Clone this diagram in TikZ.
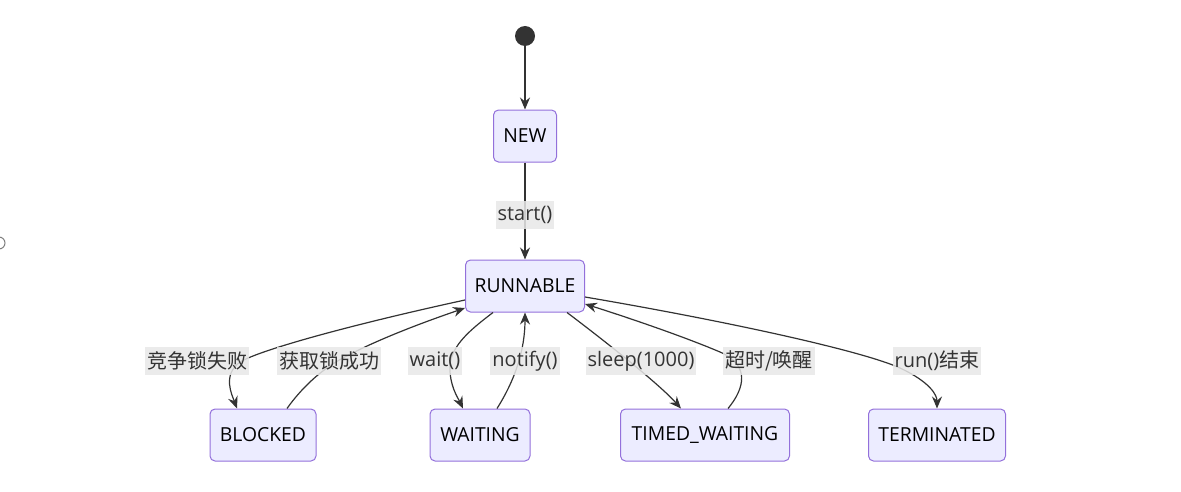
\documentclass[tikz,border=0pt]{standalone}
\usepackage{fontspec}
\setmainfont{Open Sans}
\newfontfamily\cjk{Noto Sans CJK SC}
\usetikzlibrary{arrows.meta,calc}
\definecolor{statefill}{HTML}{ECECFF}
\definecolor{statedraw}{HTML}{9370DB}
\definecolor{edgecol}{HTML}{333333}
\definecolor{labelbg}{HTML}{E8E8E8}
\begin{document}
\begin{tikzpicture}[x=0.75pt,y=-0.75pt,
    state/.style ={rectangle, rounded corners=3.75pt, draw=statedraw, fill=statefill,
      line width=0.75pt, minimum height=39pt, inner sep=0pt,
      font=\fontsize{14.5}{16}\selectfont, text=black},
    trans/.style ={fill=labelbg, fill opacity=0.85, text opacity=1, text=edgecol,
      minimum height=21pt, inner xsep=1.5pt, inner ysep=0pt,
      font=\fontsize{15}{17}\selectfont},
    edge/.style ={draw=edgecol, line width=0.9pt,
      -{Stealth[length=9pt,width=7.5pt,inset=3pt]}}]
   \useasboundingbox (0,0) rectangle (1181,492);
   \draw[gray, line width=0.75pt] (-1,243) circle[radius=4.5pt];
   % states
   \node[circle, fill=edgecol, minimum size=15pt, inner sep=0pt] (S) at (525,36) {};
   \node[state, minimum width=47.25pt] (NEW) at (525,136) {NEW};
   \node[state, minimum width=89.25pt] (RUNNABLE) at (525,286) {RUNNABLE};
   \node[state, minimum width=79.5pt] (BLOCKED) at (263,435) {BLOCKED};
   \node[state, minimum width=75pt] (WAITING) at (480,435) {WAITING};
   \node[state, minimum width=126.75pt] (TIMED) at (705,435) {TIMED\_WAITING};
   \node[state, minimum width=102.75pt] (TERM) at (937,435) {TERMINATED};
   % transitions
   \draw[edge] (S) to (NEW);
   \draw[edge] (NEW) to (RUNNABLE);
   \draw[edge] ($(RUNNABLE.west)+(0,14)$) .. controls (350,325) and (260,350) .. (240,362)
      .. controls (222,375) and (232,395) .. ($(BLOCKED.north)+(-26,0)$);
   \draw[edge] ($(BLOCKED.north)+(24,0)$) .. controls (300,390) and (320,370) .. (343,358)
      .. controls (380,338) and (430,320) .. ($(RUNNABLE.west)+(0,22)$);
   \draw[edge] ($(RUNNABLE.south)+(-32,0)$) .. controls (470,330) and (452,345) .. (450,365)
      .. controls (449,385) and (458,398) .. ($(WAITING.north)+(-17,0)$);
   \draw[edge] ($(WAITING.north)+(17,0)$) .. controls (515,380) and (525,350) .. (RUNNABLE.south);
   \draw[edge] ($(RUNNABLE.south)+(42,0)$) .. controls (610,345) and (660,385) .. ($(TIMED.north)+(-24,0)$);
   \draw[edge] ($(TIMED.north)+(23,0)$) .. controls (745,388) and (750,365) .. (720,352)
      .. controls (680,335) and (620,315) .. ($(RUNNABLE.east)+(0,18)$);
   \draw[edge] ($(RUNNABLE.east)+(0,11)$) .. controls (720,320) and (860,350) .. (900,368)
      .. controls (930,382) and (937,395) .. (TERM.north);
   % labels
   \node[trans] (start) at (525,215) {start()};
   \node[trans] (fail) at (197,361) {\cjk 竞争锁失败};
   \node[trans] (got) at (329,361) {\cjk 获取锁成功};
   \node[trans] (wait) at (435,361) {wait()};
   \node[trans] (notify) at (525,361) {notify()};
   \node[trans] (sleep) at (641,361) {sleep(1000)};
   \node[trans] (wake) at (769,361) {\cjk 超时/唤醒};
   \node[trans] (runend) at (937,361) {run()\cjk 结束};
 \end{tikzpicture}
\end{document}
